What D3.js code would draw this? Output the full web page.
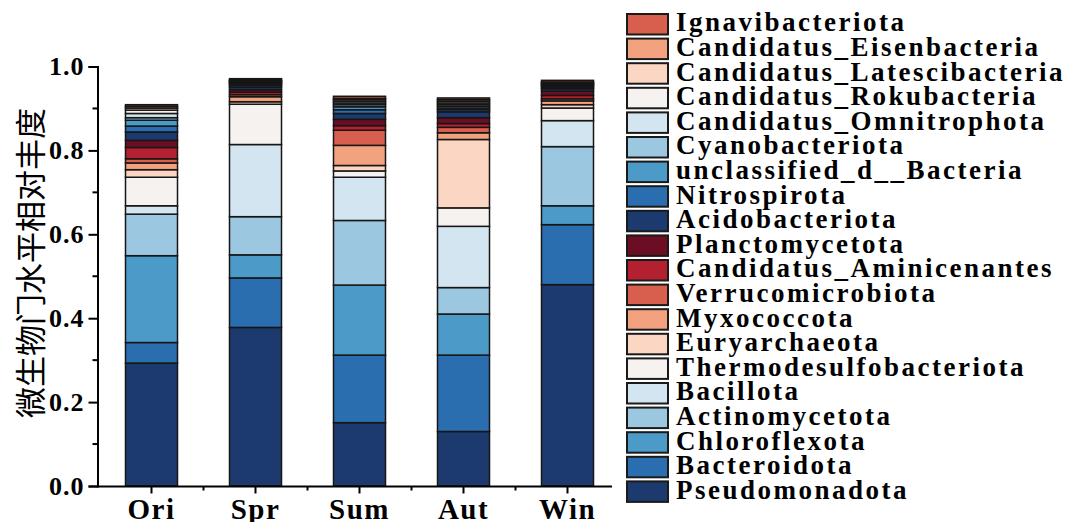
<!DOCTYPE html>
<html>
<head>
<meta charset="utf-8">
<script src="https://cdn.jsdelivr.net/npm/d3@7"></script>
<style>
  html, body { margin: 0; padding: 0; background: #fff; }
  svg { display: block; }
</style>
</head>
<body>
<svg id="chart" width="1067" height="522"></svg>
<script>
// Sampling seasons along the x axis
const seasons = ["Ori", "Spr", "Sum", "Aut", "Win"];

// Phyla, stacked from the bottom of each bar upward
const phyla = [
  "Pseudomonadota", "Bacteroidota", "Chloroflexota", "Actinomycetota", "Bacillota",
  "Thermodesulfobacteriota", "Euryarchaeota", "Myxococcota", "Verrucomicrobiota",
  "Candidatus_Aminicenantes", "Planctomycetota", "Acidobacteriota", "Nitrospirota",
  "unclassified_d__Bacteria", "Cyanobacteriota", "Candidatus_Omnitrophota",
  "Candidatus_Rokubacteria", "Candidatus_Latescibacteria", "Candidatus_Eisenbacteria",
  "Ignavibacteriota"
];

// Relative abundance per season, in the order of `phyla`
const ori = [0.293, 0.049, 0.207, 0.099, 0.020, 0.068, 0.018, 0.016, 0.010, 0.027,
             0.017, 0.020, 0.014, 0.014, 0.006, 0.010, 0.008, 0.005, 0.004, 0.004];
const spr = [0.378, 0.118, 0.055, 0.091, 0.172, 0.096, 0.006, 0.012, 0.005, 0.006,
             0.006, 0.006, 0.004, 0.003, 0.002, 0.002, 0.002, 0.002, 0.002, 0.003];
const sum = [0.151, 0.161, 0.167, 0.154, 0.103, 0.015, 0.013, 0.048, 0.036, 0.011,
             0.015, 0.014, 0.009, 0.007, 0.005, 0.004, 0.004, 0.004, 0.003, 0.005];
const aut = [0.130, 0.182, 0.098, 0.063, 0.146, 0.044, 0.163, 0.016, 0.013, 0.009,
             0.014, 0.014, 0.005, 0.004, 0.004, 0.004, 0.004, 0.004, 0.004, 0.004];
const win = [0.480, 0.143, 0.045, 0.141, 0.062, 0.030, 0.008, 0.009, 0.005, 0.008,
             0.010, 0.006, 0.003, 0.003, 0.002, 0.002, 0.002, 0.002, 0.002, 0.004];

// Y axis tick labels
const yTicks = [0, 0.2, 0.4, 0.6, 0.8, 1.0];
const yTitle = "微生物门水平相对丰度";

// Diverging blue-red palette, cycled through the phyla
const palette = ["#1d3a6e", "#2a6eb0", "#4c9ac8", "#9bc8e0", "#d3e5f0", "#f6f2ef",
                 "#fad6c3", "#f2a27f", "#d85f4d", "#b32130", "#6c0e23"];

const seasonValues = [ori, spr, sum, aut, win];
const rows = seasons.map((s, i) => {
  const r = { season: s };
  phyla.forEach((p, j) => { r[p] = seasonValues[i][j]; });
  return r;
});

const svg = d3.select("#chart");
const serif = "'Liberation Serif', 'Times New Roman', serif";

const x = d3.scaleBand()
  .domain(seasons)
  .range([99.5, 619.5])
  .paddingInner(0.5)
  .paddingOuter(0.25);

const y = d3.scaleLinear().domain([0, 1]).range([486, 66.5]);

const color = d3.scaleOrdinal()
  .domain(phyla)
  .range(phyla.map((p, i) => palette[i % palette.length]));

const stacked = d3.stack().keys(phyla)(rows);

// Stacked bars
const layers = svg.append("g")
  .selectAll("g")
  .data(stacked)
  .join("g")
  .attr("fill", d => color(d.key));

layers.selectAll("rect")
  .data(d => d)
  .join("rect")
  .attr("x", d => x(d.data.season))
  .attr("width", x.bandwidth())
  .attr("y", d => y(d[1]))
  .attr("height", d => y(d[0]) - y(d[1]))
  .attr("stroke", "#161616")
  .attr("stroke-width", 1.5);

// Y axis
const yAxis = svg.append("g")
  .attr("transform", "translate(97.5,0)")
  .call(d3.axisLeft(y).tickValues(yTicks).tickFormat(d3.format(".1f"))
    .tickSize(9).tickPadding(4));
yAxis.select(".domain").attr("stroke", "#000").attr("stroke-width", 2);
yAxis.selectAll(".tick line").attr("stroke", "#000").attr("stroke-width", 2);
yAxis.selectAll(".tick text")
  .attr("fill", "#000")
  .style("font-family", serif)
  .style("font-weight", "bold")
  .style("font-size", "26px")
  .style("letter-spacing", "1px");

// Y minor ticks
const yMinor = d3.range(0.1, 1.0, 0.2);
svg.append("g").selectAll("line")
  .data(yMinor)
  .join("line")
  .attr("x1", 97.5).attr("x2", 92.5)
  .attr("y1", d => y(d)).attr("y2", d => y(d))
  .attr("stroke", "#000").attr("stroke-width", 2);

// X axis
const xAxisY = 486.5;
svg.append("line")
  .attr("x1", 96.5).attr("x2", 612)
  .attr("y1", xAxisY).attr("y2", xAxisY)
  .attr("stroke", "#000").attr("stroke-width", 2);

const xAxis = svg.append("g")
  .attr("transform", `translate(0,${xAxisY})`)
  .call(d3.axisBottom(x).tickSize(7).tickPadding(4));
xAxis.select(".domain").remove();
xAxis.selectAll(".tick line").attr("stroke", "#000").attr("stroke-width", 2);
xAxis.selectAll(".tick text")
  .attr("fill", "#000")
  .attr("y", 32.5)
  .attr("dy", 0)
  .style("font-family", serif)
  .style("font-weight", "bold")
  .style("font-size", "29px")
  .style("letter-spacing", "1.5px");

// X minor ticks, halfway between seasons
const xMinor = seasons.slice(1).map((s, i) =>
  (x(seasons[i]) + x(s)) / 2 + x.bandwidth() / 2);
svg.append("g").selectAll("line")
  .data(xMinor)
  .join("line")
  .attr("x1", d => d).attr("x2", d => d)
  .attr("y1", xAxisY).attr("y2", xAxisY + 4)
  .attr("stroke", "#000").attr("stroke-width", 2);

// Y axis title
svg.append("text")
  .attr("transform", "translate(28,263) rotate(-90)")
  .attr("text-anchor", "middle")
  .attr("dominant-baseline", "central")
  .style("font-family", "'Noto Sans CJK SC', sans-serif")
  .style("font-size", "31px")
  .attr("fill", "#000")
  .text(yTitle);

// Legend, top item is the last phylum in the stack
const legendStep = 24.6;
const legend = svg.append("g")
  .selectAll("g")
  .data(phyla.slice().reverse())
  .join("g")
  .attr("transform", (d, i) => `translate(627,${14 + i * legendStep})`);

legend.append("rect")
  .attr("width", 41)
  .attr("height", 20.5)
  .attr("fill", d => color(d))
  .attr("stroke", "#1a1a1a")
  .attr("stroke-width", 2);

legend.append("text")
  .attr("x", 49)
  .attr("y", 17.3)
  .attr("fill", "#000")
  .style("font-family", serif)
  .style("font-weight", "bold")
  .style("font-size", "27px")
  .style("letter-spacing", "2.5px")
  .text(d => d);
</script>
</body>
</html>
